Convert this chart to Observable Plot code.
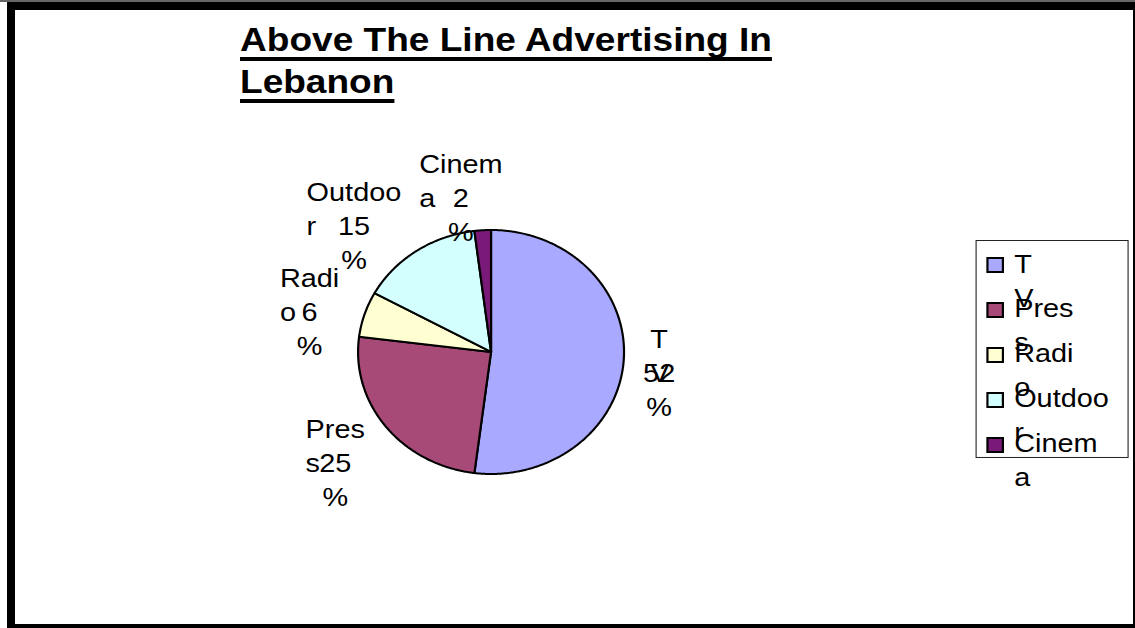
<!DOCTYPE html>
<html><head><meta charset="utf-8">
<script src="https://cdn.jsdelivr.net/npm/d3@7"></script>
<script src="https://cdn.jsdelivr.net/npm/@observablehq/plot@0.6"></script>
<style>
html,body{margin:0;padding:0;background:#fff;}
#page{position:relative;width:1135px;height:628px;overflow:hidden;background:#fff;}
#frame{position:absolute;left:7px;top:2px;width:1128px;height:626px;box-sizing:border-box;border-style:solid;border-color:#000;border-width:8px 2px 4px 8px;}
#topline{position:absolute;left:0;top:0;width:1135px;height:2px;background:#666;}
#stretch{position:absolute;left:0;top:0;height:628px;transform-origin:0 0;}
#stretch svg{position:absolute;}
#title{position:absolute;font-family:"Liberation Sans",Arial,sans-serif;font-weight:bold;font-size:34px;line-height:42px;text-decoration:underline;text-decoration-thickness:4px;text-underline-offset:6px;text-decoration-skip-ink:none;white-space:normal;color:#000;}
</style></head><body>
<div id="page"><div id="topline"></div><div id="frame"></div><div id="stretch"><div id="title"></div></div></div>
<script>
// ---- data ----
const categories = ["TV", "Press", "Radio", "Outdoor", "Cinema"];
const shares = [52, 25, 6, 15, 2];
const wrappedNames = ["T\nV", "Pres\ns", "Radi\no", "Outdoo\nr", "Cinem\na"];
const valueLabels = ["52\n%", "25\n%", "6\n%", "15\n%", "2\n%"];
const sliceColors = ["#A9AAFF", "#A84A77", "#FFFFD2", "#D3FFFF", "#7A1A78"];
const titleText = "Above The Line Advertising In Lebanon";

// ---- layout ----
const SX = 1.09, PAGE_W = 1135, PAGE_H = 628;
const W = PAGE_W / SX;
const CX = 450, CY = 351.5, R = 122;
const FS = 26.5, LH = 34, FONT = '"Liberation Sans", Arial, sans-serif';

const stretch = document.getElementById("stretch");
stretch.style.width = W + "px";
stretch.style.transform = `scaleX(${SX})`;

const title = document.getElementById("title");
title.textContent = titleText;
title.style.left = (240 / SX) + "px";
title.style.top = "18px";
title.style.width = "520px";

// ---- pie geometry ----
const arcs = d3.pie().sort(null).value(d => d)(shares);
const slicePts = [];
arcs.forEach((a, i) => {
  const cat = categories[i];
  const n = Math.max(2, Math.ceil((a.endAngle - a.startAngle) / (Math.PI / 360)));
  slicePts.push({cat, x: 0, y: 0});
  for (let k = 0; k <= n; k++) {
    const t = a.startAngle + (a.endAngle - a.startAngle) * k / n;
    slicePts.push({cat, x: Math.sin(t), y: Math.cos(t)});
  }
  slicePts.push({cat, x: 0, y: 0});
});

// ---- labels ----
const ctx = document.createElement("canvas").getContext("2d");
ctx.font = `${FS}px ${FONT}`;
const toX = px => (px - CX) / R, toY = py => (CY - py) / R;
const nameRows = [], valueRows = [];
arcs.forEach((a, i) => {
  const mid = (a.startAngle + a.endAngle) / 2;
  const ux = Math.sin(mid), uy = -Math.cos(mid);
  const nameLines = wrappedNames[i].split("\n"), valLines = valueLabels[i].split("\n");
  const w1 = ctx.measureText(nameLines[0]).width;
  const side = Math.sign(ux) * Math.min(1, Math.abs(ux) / 0.13);
  const xc = CX + 1.2 * R * ux + side * w1 / 2;
  const yc = CY + 1.35 * R * uy;
  const b1 = yc - 14.5;
  nameLines.forEach((t, j) => nameRows.push({text: t, x: toX(xc - w1 / 2), y: toY(b1 + j * LH - 0.71 * FS)}));
  valLines.forEach((t, j) => valueRows.push({text: t, x: toX(xc), y: toY(b1 + (j + 1) * LH - 0.71 * FS)}));
});

const pie = Plot.plot({
  width: W, height: PAGE_H, margin: 0,
  x: {domain: [-1, 1], range: [CX - R, CX + R], axis: null},
  y: {domain: [-1, 1], range: [CY + R, CY - R], axis: null},
  color: {domain: categories, range: sliceColors},
  style: {background: "transparent", overflow: "visible"},
  marks: [
    Plot.line(slicePts, {x: "x", y: "y", z: "cat", fill: "cat", stroke: "#000", strokeWidth: 2, strokeLinejoin: "round"}),
    Plot.text(nameRows, {x: "x", y: "y", text: "text", textAnchor: "start", lineAnchor: "top", fontSize: FS, fontFamily: FONT, fill: "#000"}),
    Plot.text(valueRows, {x: "x", y: "y", text: "text", textAnchor: "middle", lineAnchor: "top", fontSize: FS, fontFamily: FONT, fill: "#000"})
  ]
});
pie.style.left = "0px"; pie.style.top = "0px";
stretch.appendChild(pie);

// ---- legend ----
const LX = 976 / SX, LY = 240, LW = (1128 - 976) / SX, LHT = 217, STEP = 45;
const legRows = [];
categories.forEach((c, i) => wrappedNames[i].split("\n").forEach((t, j) => legRows.push({text: t, y: i + j * LH / STEP})));
const legend = Plot.plot({
  width: LW, height: LHT, margin: 0,
  x: {domain: [0, LW], range: [0, LW], axis: null},
  y: {domain: [0, categories.length - 1], range: [24.5, 24.5 + STEP * (categories.length - 1)], axis: null},
  color: {domain: categories, range: sliceColors},
  style: {background: "transparent", overflow: "visible"},
  marks: [
    Plot.frame({stroke: "#222", strokeWidth: 1}),
    Plot.dot(categories, {x: () => 17.5, y: (d, i) => i, symbol: "square", r: 8, fill: d => d, stroke: "#000", strokeWidth: 2}),
    Plot.text(legRows, {x: () => 34.9, y: "y", text: "text", textAnchor: "start", lineAnchor: "top", dy: 7.5 - 0.71 * FS, fontSize: FS, fontFamily: FONT, fill: "#000"})
  ]
});
legend.style.left = LX + "px"; legend.style.top = LY + "px";
stretch.appendChild(legend);
</script>
</body></html>
